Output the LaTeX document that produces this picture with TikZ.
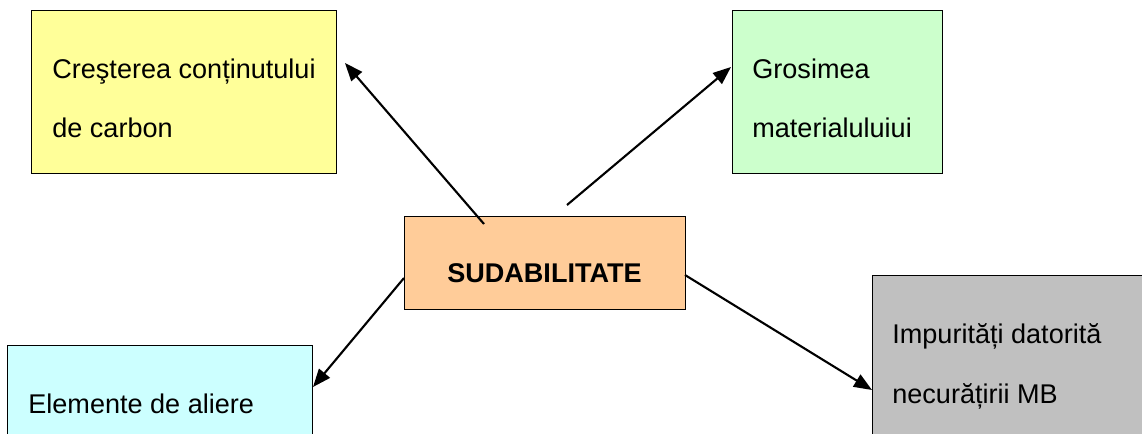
\documentclass[tikz,border=0pt]{standalone}
\usepackage{fontspec}
\setmainfont{Liberation Sans}
\usetikzlibrary{arrows.meta}
\definecolor{carbonfill}{HTML}{FFFF99}
\definecolor{grosfill}{HTML}{CCFFCC}
\definecolor{sudfill}{HTML}{FFCC99}
\definecolor{aliajfill}{HTML}{CCFFFF}
\definecolor{impfill}{HTML}{C0C0C0}

\begin{document}
\begin{tikzpicture}[x=0.2mm, y=-0.2mm,
        box/.style={draw, line width=0.8pt, inner sep=0pt, anchor=north west},
        txt/.style={anchor=base west, align=left, inner sep=0pt, font=\fontsize{15.4}{34}\selectfont},
        arr/.style={line width=1.2pt, -{Triangle[length=3.6mm, width=2.8mm]}}]
        \path[use as bounding box, clip] (0,0) rectangle (1142,434);
        % boxes
        \node[box, fill=carbonfill, minimum width=61mm, minimum height=32.6mm] (carbon) at (31,10) {};
        \node[box, fill=grosfill, minimum width=42mm, minimum height=32.6mm] (gros) at (732,10) {};
        \node[box, fill=sudfill, minimum width=56.2mm, minimum height=18.6mm] (sud) at (404,216) {};
        \node[box, fill=aliajfill, minimum width=61mm, minimum height=30mm] (aliaj) at (7,345) {};
        \node[box, fill=impfill, minimum width=60mm, minimum height=40mm] (imp) at (872,275) {};
        % texts (base = last line)
        \node[txt] (carbontxt) at (52,138) {Creşterea conținutului\\de carbon};
        \node[txt] (grostxt) at (752,138) {Grosimea\\materialuluiui};
        \node[txt, anchor=base, font=\fontsize{15.4}{34}\selectfont\bfseries] (sudtxt) at (544.5,282) {SUDABILITATE};
        \node[txt] (aliajtxt) at (28,413) {Elemente de aliere};
        \node[txt] (imptxt) at (892,403) {Impurități datorită\\necurățirii MB};
        % arrow ends
        \coordinate (c1) at (484,224);
        \coordinate (c2) at (345,63);
        \coordinate (g1) at (567,205);
        \coordinate (g2) at (731,67);
        \coordinate (a1) at (404,278);
        \coordinate (a2) at (313,387);
        \coordinate (i1) at (685,275);
        \coordinate (i2) at (872,390);
        \draw[arr] (c1) -- (c2);
        \draw[arr] (g1) -- (g2);
        \draw[arr] (a1) -- (a2);
        \draw[arr] (i1) -- (i2);
    \end{tikzpicture}
\end{document}
